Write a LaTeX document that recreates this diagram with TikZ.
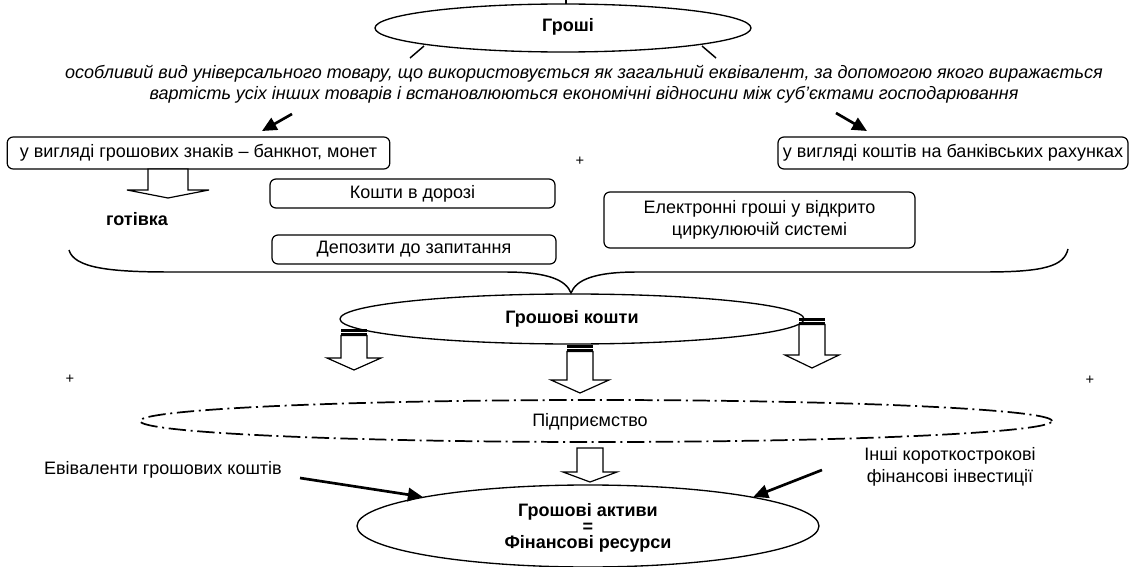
\documentclass[tikz,border=0pt]{standalone}
\usepackage{fontspec}
\setmainfont{Liberation Sans}
\usetikzlibrary{arrows.meta,shapes.geometric}
\newcommand\fs{\fontsize{13.5pt}{16pt}\selectfont}
\newcommand\hollowarr[6]{% cx, top, base, tip, half shaft, half head
  \draw[harrow] (#1-#5,#2) -- (#1-#5,#3) -- (#1-#6,#3) -- (#1,#4) -- (#1+#6,#3) -- (#1+#5,#3) -- (#1+#5,#2) -- cycle;}
\newcommand\stripedarr[6]{%
  \fill (#1-#5,#2) rectangle (#1+#5,#2+2.5);
  \fill (#1-#5,#2+4) rectangle (#1+#5,#2+5.5);
  \hollowarr{#1}{#2+6.5}{#3}{#4}{#5}{#6}}
\tikzset{
  box/.style={draw, rounded corners=4.5pt, line width=0.9pt, inner sep=0pt, align=center, font=\fs},
  oval/.style={draw, ellipse, line width=1pt, inner sep=0pt, align=center, font=\fs\bfseries},
  plain/.style={inner sep=0pt, align=center, font=\fs},
  harrow/.style={draw, fill=white, line width=0.9pt, line join=miter},
  thickarr/.style={line width=2pt, -{Triangle[length=11pt,width=10pt]}},
  thinline/.style={line width=1.1pt},
  dashdot/.style={draw, ellipse, line width=1.3pt, dash pattern=on 13pt off 3.5pt on 1.5pt off 3.5pt, inner sep=0pt},
  plus/.style={inner sep=0pt, font=\fontsize{11pt}{13pt}\selectfont}
}
\begin{document}
\begin{tikzpicture}[x=0.75pt,y=-0.75pt]
\useasboundingbox (0,0) rectangle (1133,567);
% top
\node[oval, minimum width=282pt, minimum height=36pt] (groshi) at (563,28) {};
\node[plain, font=\fs\bfseries] (groshiT) at (568,27) {Гроші};
\coordinate (tk1) at (566,0); \coordinate (tk2) at (566,4);
\draw[line width=0.8pt] (tk1) -- (tk2);
\coordinate (tl1) at (424,46); \coordinate (tl2) at (410,58);
\coordinate (tr1) at (702,46); \coordinate (tr2) at (716,58);
\draw[thinline] (tl1) -- (tl2);
\draw[thinline] (tr1) -- (tr2);
\node[plain, font=\fs\itshape] (def) at (584,84) {особливий вид універсального товару, що використовується як загальний еквівалент, за допомогою якого виражається\\вартість усіх інших товарів і встановлюються економічні відносини між суб’єктами господарювання};
\coordinate (a1s) at (292,114); \coordinate (a1e) at (262,131);
\coordinate (a2s) at (836,113); \coordinate (a2e) at (867,131);
\draw[thickarr] (a1s) -- (a1e);
\draw[thickarr] (a2s) -- (a2e);
% boxes
\node[box, minimum width=287pt, minimum height=24pt] (b1) at (198.5,153) {у вигляді грошових знаків – банкнот, монет};
\node[box, minimum width=262.5pt, minimum height=24pt] (b2) at (953,153) {у вигляді коштів на банківських рахунках};
\node[plus] (p1) at (580,161) {+};
\node[box, minimum width=213.75pt, minimum height=21.75pt] (kd) at (412.5,193.5) {Кошти в дорозі};
\node[box, minimum width=213pt, minimum height=21.75pt] (dep) at (414,249.5) {Депозити до запитання};
\node[box, minimum width=233.25pt, minimum height=42pt] (el) at (759.5,220) {Електронні гроші у відкрито\\циркулюючій системі};
\node[plain, font=\fs\bfseries] (got) at (137,219) {готівка};
\hollowarr{168}{169}{190}{198}{20}{41}
% brace
\coordinate (brL) at (69,250); \coordinate (brM) at (571,293); \coordinate (brR) at (1068,249);
\draw[thinline] (brL) .. controls (74,268) and (110,272) .. (170,272) -- (505,272)
  .. controls (548,272) and (566,280) .. (brM)
  .. controls (576,280) and (594,272) .. (637,272) -- (985,272)
  .. controls (1045,272) and (1064,266) .. (brR);
% money funds
\node[oval, minimum width=348pt, minimum height=37.5pt] (gk) at (572,319) {Грошові кошти};
\stripedarr{354}{329}{358}{370}{13}{27}
\stripedarr{580}{345}{380}{393}{13}{29}
\stripedarr{812}{318}{355}{368}{13}{27}
\node[plus] (p2) at (70,379) {+};
\node[plus] (p3) at (1090,380) {+};
% enterprise
\node[dashdot, minimum width=684pt, minimum height=31.5pt] (ent) at (596,421) {};
\node[plain] (entT) at (590,422) {Підприємство};
\hollowarr{590}{448}{472}{482}{13}{27}
% bottom
\node[oval, minimum width=346.5pt, minimum height=61.5pt] (assets) at (588,526) {};
\node[plain, font=\fs\bfseries] (assetsT) at (588,528) {Грошові активи\\[-4pt]=\\[-4pt]Фінансові ресурси};
\node[plain] (ekv) at (163,470) {Евіваленти грошових коштів};
\node[plain] (inv) at (950,467) {Інші короткострокові\\фінансові інвестиції};
\coordinate (e1) at (300,478); \coordinate (e2) at (822,470);
\draw[thickarr] (e1) -- (assets.170);
\draw[thickarr] (e2) -- (assets.10);
\end{tikzpicture}
\end{document}
